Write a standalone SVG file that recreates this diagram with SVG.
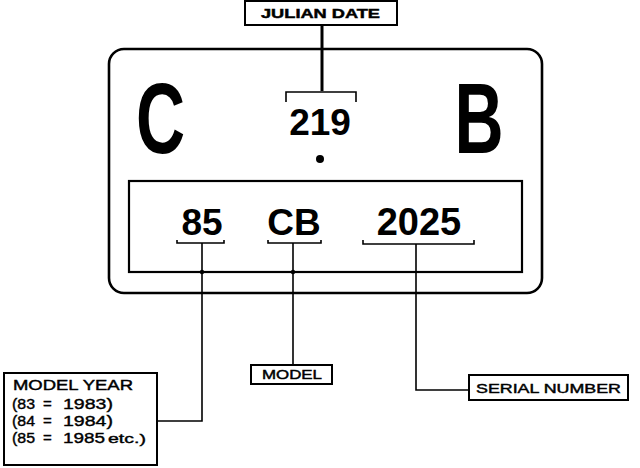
<svg xmlns="http://www.w3.org/2000/svg" width="640" height="468" viewBox="0 0 640 468">
<style>
.ln{fill:none;stroke:#000;stroke-width:1.6}
.box{fill:#fff;stroke:#000;stroke-width:2}
.big{font-family:"Liberation Sans",Arial,sans-serif;font-weight:bold;fill:#000}
.lbl{font-family:"Liberation Sans",Arial,sans-serif;fill:#000;stroke:#000;stroke-width:0.45}
.yr{font-family:"Liberation Sans",Arial,sans-serif;fill:#000;stroke:#000;stroke-width:0.4;font-size:15px}
</style>
<rect width="640" height="468" fill="#fff"/>
<g id="plate">
<rect x="109" y="49" width="433" height="244" rx="15" ry="15" fill="#fff" stroke="#000" stroke-width="2.6"/>
<rect x="129" y="181" width="393" height="91" fill="none" stroke="#000" stroke-width="2.2"/>
<text class="big" font-size="100" transform="scale(0.68,1)" x="236" y="153" text-anchor="middle">C</text>
<text class="big" font-size="100" transform="scale(0.68,1)" x="704.4" y="153" text-anchor="middle">B</text>
<text class="big" font-size="37" x="320" y="135" text-anchor="middle">219</text>
<circle cx="320" cy="159" r="4" fill="#000"/>
<text class="big" font-size="37" x="202" y="235" text-anchor="middle">85</text>
<text class="big" font-size="37" x="294" y="235" text-anchor="middle">CB</text>
<text class="big" font-size="38" x="419" y="235" text-anchor="middle">2025</text>
</g>
<g id="connectors">
<line x1="322" y1="25" x2="322" y2="91" stroke="#000" stroke-width="3"/>
<polyline class="ln" stroke-width="2.2" points="286,102 286,92 356,92 356,102"/>
<polyline class="ln" points="177,240 177,243 224,243 224,240"/>
<polyline class="ln" points="268,240 268,243 321,243 321,240"/>
<polyline class="ln" points="363,240 363,244 474,244 474,240"/>
<polyline class="ln" points="202,243 202,421 157,421"/>
<line class="ln" x1="293" y1="243" x2="293" y2="365"/>
<polyline class="ln" points="416,244 416,390 469,390"/>
<circle cx="202" cy="272" r="2.2" fill="#000"/>
<circle cx="293" cy="272" r="2.2" fill="#000"/>
</g>
<g id="julian-date">
<rect class="box" x="245" y="1" width="152" height="24"/>
<text class="lbl" font-weight="bold" font-size="13.5" x="261" y="18" textLength="119" lengthAdjust="spacingAndGlyphs">JULIAN DATE</text>
</g>
<g id="model-year">
<rect class="box" x="4" y="373" width="153" height="92"/>
<text class="lbl" font-size="15" x="13" y="390" textLength="120" lengthAdjust="spacingAndGlyphs">MODEL YEAR</text>
<text class="yr" y="409"><tspan x="12" textLength="23" lengthAdjust="spacingAndGlyphs">(83</tspan><tspan x="43">=</tspan><tspan x="63" textLength="50" lengthAdjust="spacingAndGlyphs">1983)</tspan></text>
<text class="yr" y="426"><tspan x="12" textLength="23" lengthAdjust="spacingAndGlyphs">(84</tspan><tspan x="43">=</tspan><tspan x="63" textLength="50" lengthAdjust="spacingAndGlyphs">1984)</tspan></text>
<text class="yr" y="443"><tspan x="12" textLength="23" lengthAdjust="spacingAndGlyphs">(85</tspan><tspan x="43">=</tspan><tspan x="63" textLength="42" lengthAdjust="spacingAndGlyphs">1985</tspan><tspan x="108" font-size="13" textLength="38" lengthAdjust="spacingAndGlyphs">etc.)</tspan></text>
</g>
<g id="model">
<rect class="box" x="251" y="365" width="81" height="19"/>
<text class="lbl" font-size="13" x="262" y="379" textLength="60" lengthAdjust="spacingAndGlyphs">MODEL</text>
</g>
<g id="serial-number">
<rect class="box" x="469" y="375" width="159" height="25"/>
<text class="lbl" font-size="13.5" x="476" y="393" textLength="145" lengthAdjust="spacingAndGlyphs">SERIAL NUMBER</text>
</g>
</svg>
